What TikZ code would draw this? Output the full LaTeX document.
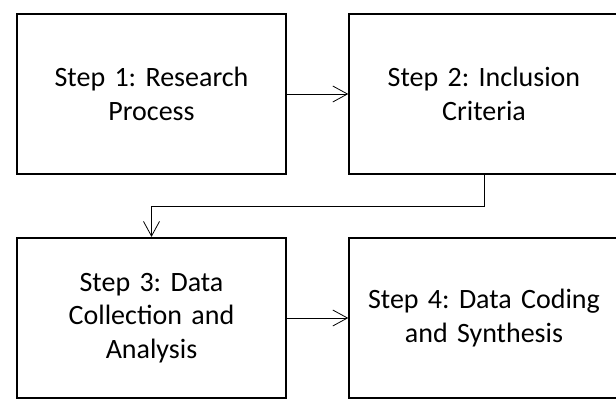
\documentclass[tikz,border=0pt]{standalone}
\usepackage{fontspec}
\setmainfont{Carlito}
\usetikzlibrary{arrows.meta}
\frenchspacing

\begin{document}
\begin{tikzpicture}[x=0.75pt,y=-0.75pt]
                \tikzset{stepbox/.style={draw, line width=1.6pt, minimum width=202pt, minimum height=120pt,
                text width=190pt, align=center, font=\fontsize{21}{25}\selectfont},
                arr/.style={line width=0.6pt, -{Straight Barb[length=11pt,width=12pt,line width=0.6pt]}}}
                \useasboundingbox (0,0) rectangle (616,400);

                \node[stepbox] (s1) at (151.5,94) {Step 1: Research\\Process};
                \node[stepbox] (s2) at (484,94) {Step 2: Inclusion\\Criteria};
                \node[stepbox] (s3) at (151.5,318) {Step 3: Data\\Collection and\\Analysis};
                \node[stepbox] (s4) at (484,318) {Step 4: Data Coding\\and Synthesis};
                \coordinate (bend) at (484,206);

                \draw[arr] (s1) -- (s2);
                \draw[arr] (s2.south) -- (bend) -| (s3.north);
                \draw[arr] (s3) -- (s4);
            \end{tikzpicture}
\end{document}
